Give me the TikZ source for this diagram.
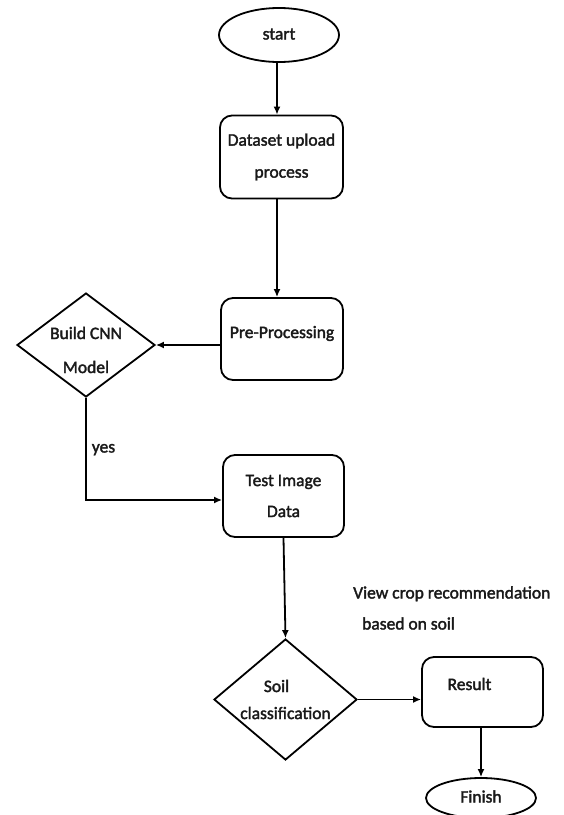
\documentclass[tikz,border=0pt]{standalone}
\usepackage{fontspec}
\setmainfont{Carlito}[FakeBold=2]
\usetikzlibrary{shapes.geometric,arrows.meta}
\begin{document}
\begin{tikzpicture}[x=1pt,y=-1pt,
  every node/.style={font=\fontsize{17.5}{31}\selectfont, text=black!90},
  line/.style={line width=1.8pt, draw=black},
  arr/.style={line, -{Latex[length=8pt,width=7pt]}},
  oval/.style={ellipse, draw, line width=1.8pt, inner sep=0pt, text height=12pt, text depth=3pt},
  box/.style={rectangle, rounded corners=12pt, draw, line width=1.8pt, align=center, inner sep=0pt},
  dia/.style={diamond, draw, line width=1.8pt, inner sep=0pt},
  txt/.style={align=center, inner sep=0pt},
  one/.style={inner sep=0pt, text height=12pt, text depth=3pt}]
\useasboundingbox (0,0) rectangle (564,815);
\coordinate (c1) at (277,0);
\coordinate (c2) at (0,500);
% nodes
\node[oval, minimum width=120pt, minimum height=54pt] (start) at (279,35) {start};
\node[box, minimum width=123pt, minimum height=83pt] (data) at (281.5,157) {Dataset upload\\[1pt]process};
\node[box, minimum width=122pt, minimum height=82pt, text height=12pt, text depth=14pt] (pre) at (282,339) {Pre-Processing};
\node[dia, minimum width=138pt, minimum height=104pt] (cnn) at (86,345) {};
\node[txt] (cnnt) at (86,350) {Build CNN\\[3pt]Model};
\node[one] (yes) at (103.5,448) {yes};
\node[box, minimum width=121pt, minimum height=82pt] (test) at (283.5,496) {Test Image\\Data};
\node[dia, minimum width=143pt, minimum height=121pt] (soil) at (285.5,699.5) {};
\node[txt] (soilt) at (285.5,699.5) {Soil\rule{18pt}{0pt}\\[-4pt]classification};
\node[box, minimum width=121pt, minimum height=70pt, text height=12pt, text depth=16pt] (result) at (482.5,692) {Result\rule{26pt}{0pt}};
\node[oval, minimum width=110pt, minimum height=40pt] (finish) at (481,798) {Finish};
\node[one, anchor=west] (view) at (353,594) {View crop recommendation};
\node[one, anchor=west] (based) at (362,625) {based on soil};
% connectors
\draw[arr] (start.south -| c1) -- (data.north -| c1);
\draw[arr] (data.south -| c1) -- (pre.north -| c1);
\draw[arr] (pre.west |- cnn.east) -- (cnn.east);
\draw[arr] (cnn.south) -- (cnn.south |- c2) -- (test.west |- c2);
\draw[arr] (test.south) -- (soil.north);
\draw[arr] (soil.east) -- (soil.east -| result.west);
\draw[arr] (result.south -| finish.north) -- (finish.north);
\end{tikzpicture}
\end{document}
